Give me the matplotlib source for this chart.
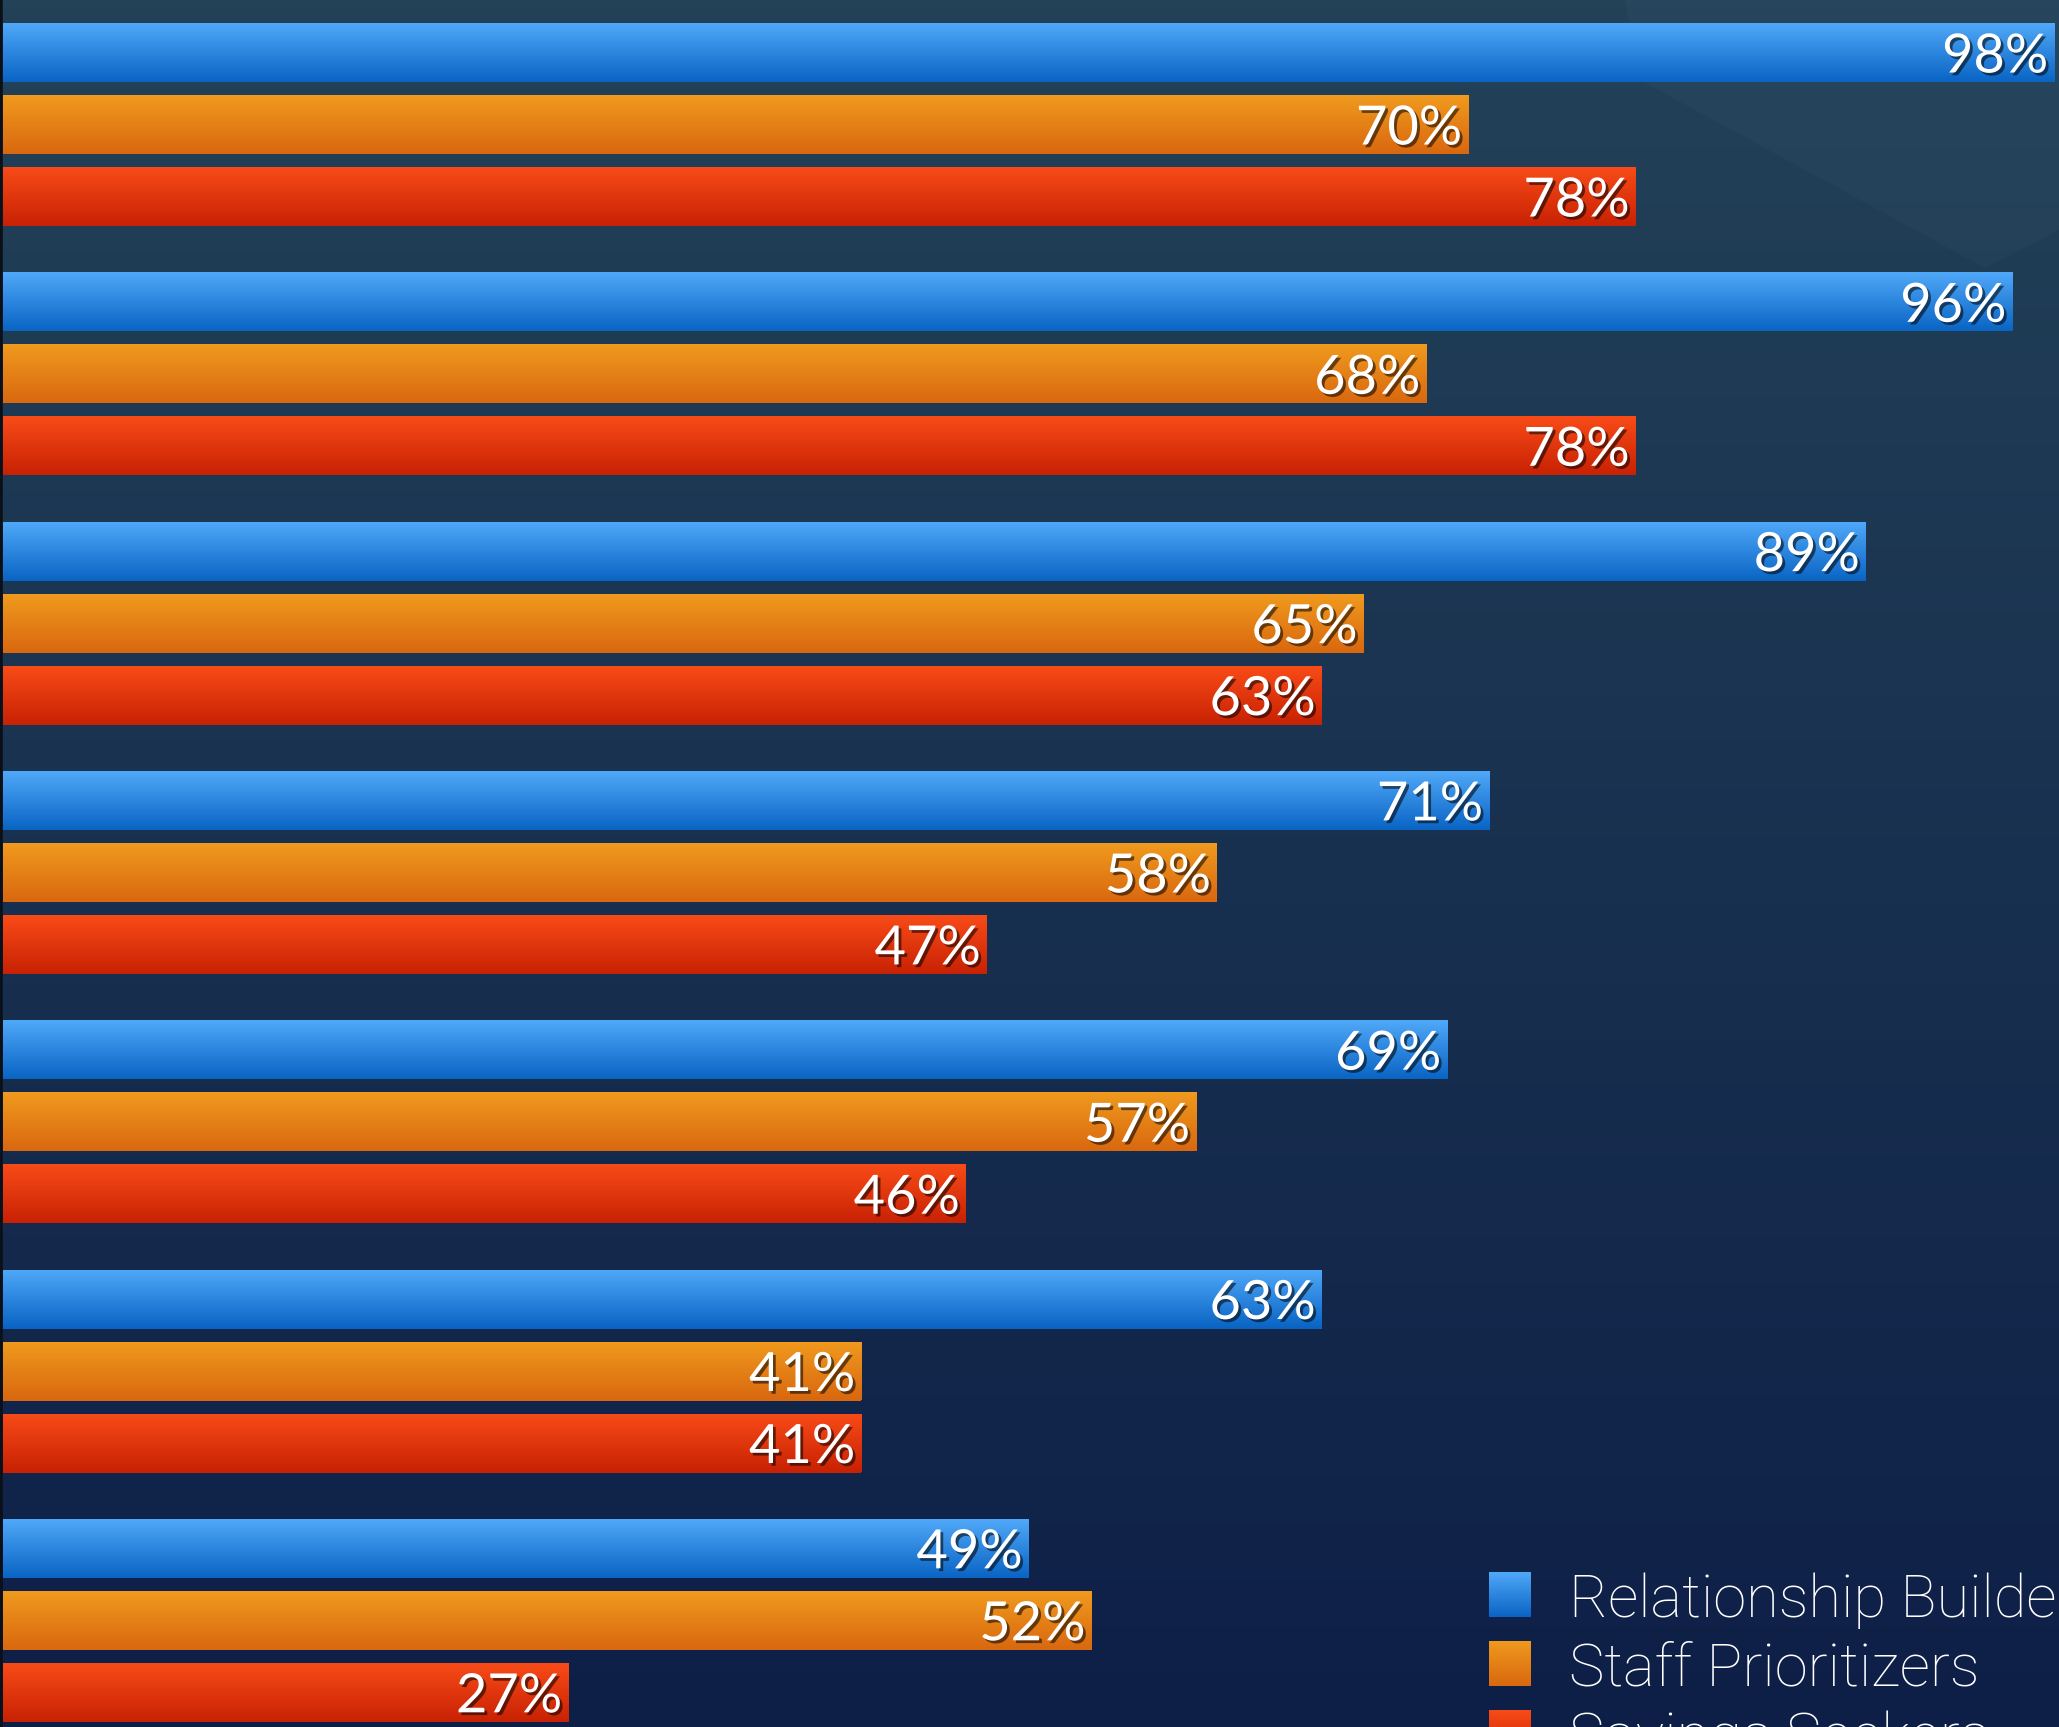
import matplotlib.pyplot as plt
import matplotlib.patheffects as pe
from matplotlib.patches import Polygon
import numpy as np

# survey results, % per group and segment
segments = ['Relationship Builders', 'Staff Prioritizers', 'Savings Seekers']
builders = [98, 96, 89, 71, 69, 63, 49]
staff = [70, 68, 65, 58, 57, 41, 52]
savers = [78, 78, 63, 47, 46, 41, 27]
series = [builders, staff, savers]

# top / bottom gradient colours per segment
grads = [('#4fa8f8', '#0a64c4'),
         ('#f09a1e', '#d9680f'),
         ('#f94b18', '#c82204')]

W, H = 2059, 1727
fig = plt.figure(figsize=(W/100., H/100.), dpi=100)

# background
bg = fig.add_axes([0, 0, 1, 1])
bg.set_axis_off()
top = np.array([0x23, 0x42, 0x58])/255.
bot = np.array([0x0e, 0x1f, 0x47])/255.
t = np.linspace(0, 1, 256)[:, None, None]
bg.imshow(top*(1-t) + bot*t, aspect='auto', extent=(0, W, H, 0))
# faint lighter facet in the top right corner
bg.add_patch(Polygon([(1625, 0), (W, 0), (W, 230), (1985, 268), (1640, 80)],
                     closed=True, fc='#8090b0', alpha=0.05, ec='none'))
bg.set_xlim(0, W)
bg.set_ylim(H, 0)


def rgb(h):
    h = h.lstrip('#')
    return np.array([int(h[i:i+2], 16) for i in (0, 2, 4)])/255.


def gradient(c1, c2):
    s = np.linspace(0, 1, 64)[:, None, None]
    return rgb(c1)*(1-s) + rgb(c2)*s


ax = fig.add_axes([0, 0, 1, 1])
ax.patch.set_alpha(0)
px = 20.93  # pixels per percent
gp = 249.3  # pixels per group

step = 72/gp
bh = 59/gp
groups = np.arange(len(builders))
for s, vals in enumerate(series):
    ys = groups + s*step
    bars = ax.barh(ys, vals, height=bh, color=grads[s][1], lw=0)
    for b, v, y in zip(bars, vals, ys):
        im = ax.imshow(gradient(*grads[s]), aspect='auto',
                       extent=(0, v, y + bh/2, y - bh/2), zorder=2)
        im.set_clip_path(b)
        ax.text(v - 6/px, y + 20/gp, '%d%%' % v, ha='right', va='baseline',
                color='white', fontsize=39, family='Lato', zorder=3,
                path_effects=[pe.withSimplePatchShadow(offset=(2, -2),
                                                       shadow_rgbFace='black',
                                                       alpha=0.55)])

ax.set_xlim(-3/px, (W-3)/px)
ax.set_ylim((H-52.5)/gp, -52.5/gp)
ax.set_xticks([])
ax.set_yticks([])
for sp in ['top', 'right', 'bottom']:
    ax.spines[sp].set_visible(False)
ax.spines['left'].set_color('#0a1018')
ax.spines['left'].set_linewidth(4)

# legend
for i, name in enumerate(segments):
    y0 = 1572 + 69*i
    sq = fig.add_axes([1489./W, 1 - (y0 + 45)/H, 42./W, 45./H])
    sq.imshow(gradient(*grads[i]), aspect='auto')
    sq.set_axis_off()
    fig.text(1569./W, 1 - (y0 + 45)/H, name, color='white', fontsize=43,
             family='Roboto', fontweight='light', va='baseline')

plt.savefig('out.png', dpi=100)
